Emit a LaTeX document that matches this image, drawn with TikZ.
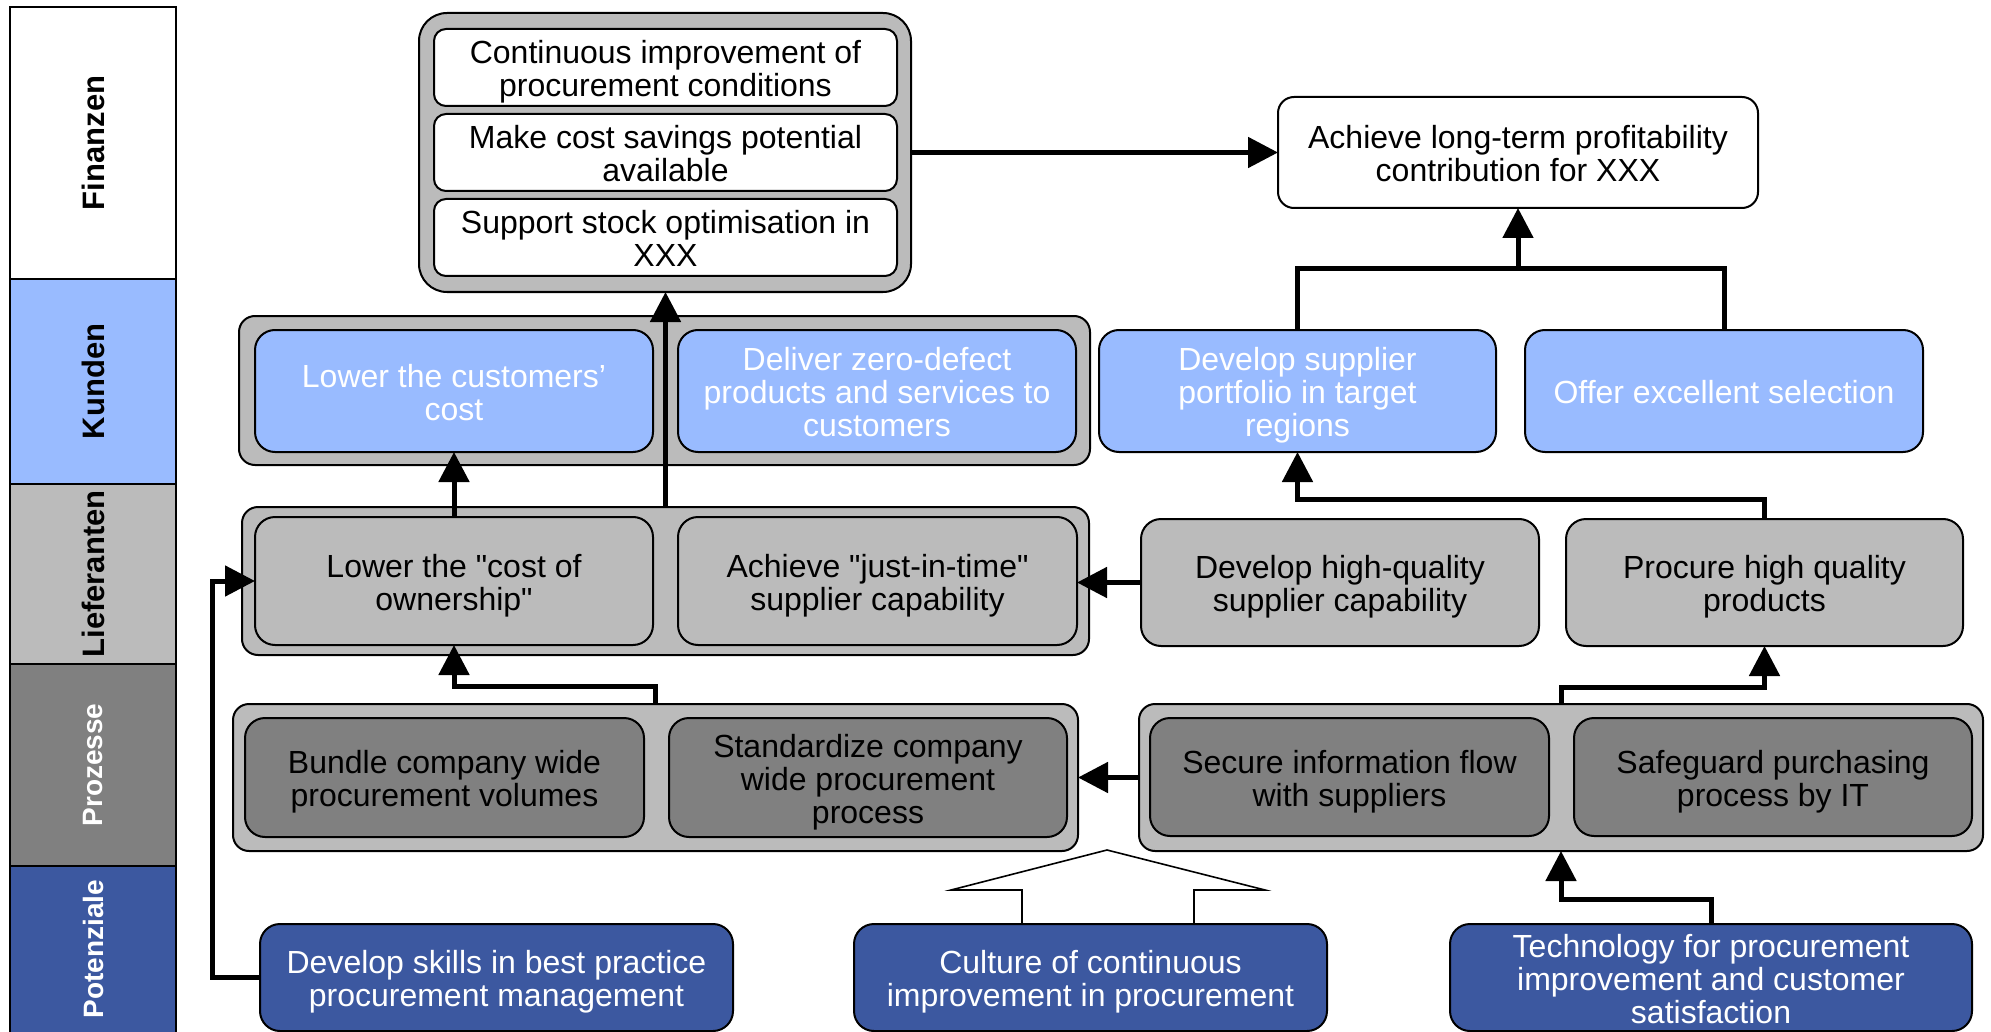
\documentclass[tikz,border=0pt]{standalone}
\usepackage{fontspec}
\setmainfont{Liberation Sans}
% family without the TeX quote mapping, so that " stays a straight quote
\newfontfamily\boxfont{Liberation Sans}
\usetikzlibrary{arrows.meta,calc}
\definecolor{kblue}{HTML}{99BBFF}
\definecolor{pblue}{HTML}{3C58A0}
\definecolor{lgray}{HTML}{BBBBBB}
\definecolor{dgray}{HTML}{808080}

% struts fixing the height of the first and the depth of the last text line
\newcommand\topstrut{\rule{0pt}{16pt}}
\newcommand\botstrut{\rule[-3.5pt]{0pt}{3.5pt}}

% \mkbox{name}{x1}{y1}{x2}{y2}{style}{text}: box between two corners (pixel grid)
\newcommand\mkbox[7]{%
  \node[#6, minimum width={(#4-#2)*0.5pt}, minimum height={(#5-#3)*0.5pt}]
    (#1) at ({(#2+#4)/2},{(#3+#5)/2}) {\topstrut#7\botstrut};}

\begin{document}
\begin{tikzpicture}[x=0.5pt,y=-0.5pt,
  every node/.style={inner sep=0pt, outer sep=0pt, align=center,
    font=\boxfont\fontsize{16}{16.5}\selectfont},
  base/.style={draw, line width=1pt},
  band/.style={base, rectangle},
  bandlabel/.style={rotate=90, font=\boxfont\fontsize{15.5}{16.5}\selectfont\bfseries},
  smalllabel/.style={rotate=90, font=\boxfont\fontsize{14}{15}\selectfont\bfseries},
  grp/.style={base, fill=lgray, rounded corners=8pt},
  topgroup/.style={base, fill=lgray, rounded corners=14pt},
  finbox/.style={base, fill=white, rounded corners=6pt},
  goalbox/.style={base, fill=white, rounded corners=8pt},
  custbox/.style={base, fill=kblue, text=white, rounded corners=10pt},
  suppbox/.style={base, fill=lgray, rounded corners=10pt},
  procbox/.style={base, fill=dgray, rounded corners=10pt},
  potbox/.style={base, fill=pblue, text=white, rounded corners=10pt},
  conn/.style={line width=2.5pt, -{Triangle[length=15pt,width=15pt]}},
  link/.style={line width=2.5pt},
]
\useasboundingbox (0,0) rectangle (1991,1032);

% perspective bands on the left
\mkbox{finanzen}{10}{7}{176}{279}{band, fill=white}{}
\mkbox{kunden}{10}{279}{176}{484}{band, fill=kblue}{}
\mkbox{lieferanten}{10}{484}{176}{664}{band, fill=lgray}{}
\mkbox{prozesse}{10}{664}{176}{866}{band, fill=dgray}{}
\mkbox{potenziale}{10}{866}{176}{1040}{band, fill=pblue}{}
\node[bandlabel] (lfin) at (finanzen) {Finanzen};
\node[bandlabel] (lkun) at (kunden) {Kunden};
\node[bandlabel] (llie) at (lieferanten) {Lieferanten};
\node[smalllabel, text=white] (lpro) at (prozesse) {Prozesse};
\node[smalllabel, text=white] (lpot) at ($(potenziale)+(0,-4)$) {Potenziale};

% financial objectives
\mkbox{topgrp}{419}{13}{911}{292}{topgroup}{}
\mkbox{fin1}{434}{29}{897}{106}{finbox}{Continuous improvement of\\procurement conditions}
\mkbox{fin2}{434}{114}{897}{191}{finbox}{Make cost savings potential\\available}
\mkbox{fin3}{434}{199}{897}{276}{finbox}{Support stock optimisation in\\XXX}
\mkbox{achieve}{1278}{97}{1758}{208}{goalbox}{Achieve long-term profitability\\contribution for XXX}

% customer objectives
\mkbox{kundgrp}{239}{316}{1090}{465}{grp}{}
\mkbox{lcust}{255}{330}{653}{452}{custbox}{Lower the customers’\\cost}
\mkbox{zero}{678}{330}{1076}{452}{custbox}{Deliver zero-defect\\products and services to\\customers}
\mkbox{dsp}{1099}{330}{1496}{452}{custbox}{Develop supplier\\portfolio in target\\regions}
\mkbox{offer}{1525}{330}{1923}{452}{custbox}{Offer excellent selection}

% supplier objectives
\mkbox{liefgrp}{242}{507}{1089}{655}{grp}{}
\mkbox{lcoo}{255}{517}{653}{645}{suppbox}{Lower the "cost of\\ownership"}
\mkbox{jit}{678}{517}{1077}{645}{suppbox}{Achieve "just-in-time"\\supplier capability}
\mkbox{dhq}{1141}{519}{1539}{646}{suppbox}{Develop high-quality\\supplier capability}
\mkbox{procure}{1566}{519}{1963}{646}{suppbox}{Procure high quality\\products}

% process objectives
\mkbox{prozL}{233}{704}{1078}{851}{grp}{}
\mkbox{bundle}{245}{718}{644}{837}{procbox}{Bundle company wide\\procurement volumes}
\mkbox{stand}{669}{718}{1067}{837}{procbox}{Standardize company\\wide procurement\\process}
\mkbox{prozR}{1139}{704}{1983}{851}{grp}{}
\mkbox{secure}{1150}{718}{1549}{836}{procbox}{Secure information flow\\with suppliers}
\mkbox{safe}{1574}{718}{1972}{836}{procbox}{Safeguard purchasing\\process by IT}

% hollow arrow from the culture box
\filldraw[line width=0.8pt, fill=white]
  ($(854,924)!0.5!(1327,924)+(-68.5,0)$) -- ++(0,-34) -- ++(-71,0)
  -- ($(854,924)!0.5!(1327,924)+(16.5,-74)$)
  -- ($(854,924)!0.5!(1327,924)+(174.5,-34)$) -- ++(-71,0) -- ++(0,34);

% potential objectives
\mkbox{skills}{260}{924}{733}{1031}{potbox}{Develop skills in best practice\\procurement management}
\mkbox{culture}{854}{924}{1327}{1031}{potbox}{Culture of continuous\\improvement in procurement}
\mkbox{tech}{1450}{924}{1972}{1031}{potbox}{Technology for procurement\\improvement and customer\\satisfaction}

% connectors
\draw[conn] (topgrp.east) -- (achieve.west);
\coordinate (jA) at ($(achieve.south)+(0,61)$);
\draw[link] (dsp.north) |- (jA) -| (offer.north);
\draw[conn] (jA) -- (achieve.south);
\draw[conn] (liefgrp.north) -- (liefgrp.north |- topgrp.south);
\draw[conn] (lcoo.north) -- (lcust.south);
\coordinate (jB) at ($(procure.north)+(0,-20)$);
\draw[conn] (procure.north) -- (jB) -| (dsp.south);
\draw[conn] (dhq.west) -- (jit.east |- dhq.west);
\draw[conn] (skills.west) -- ++(-48,0) |- (lcoo.west);
\draw[conn] (prozL.north) -- ++(0,-18) -| (lcoo.south);
\draw[conn] (prozR.west) -- (prozL.east |- prozR.west);
\draw[conn] (prozR.north) -- ++(0,-17) -| (procure.south);
\draw[conn] (tech.north) -- ++(0,-25) -| (prozR.south);
\end{tikzpicture}
\end{document}
